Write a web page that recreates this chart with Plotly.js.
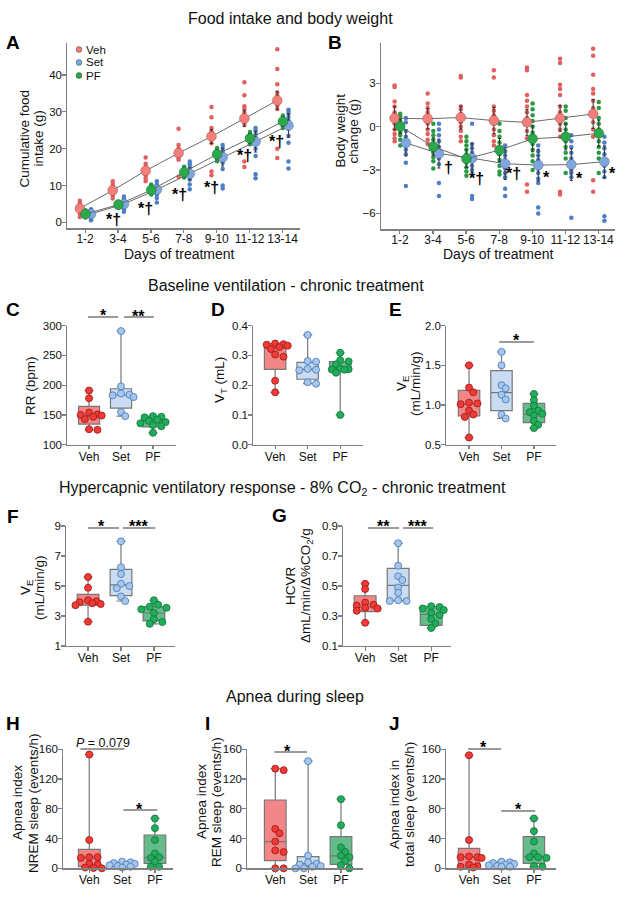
<!DOCTYPE html>
<html><head><meta charset="utf-8">
<script src="https://cdn.plot.ly/plotly-3.0.1.min.js"></script>
<style>html,body{margin:0;padding:0;background:#fff;}#chart{width:631px;height:900px;}</style>
</head><body><div id="chart"></div>
<script>
// ================= DATA =================
const days = ['1-2','3-4','5-6','7-8','9-10','11-12','13-14'];
const groups = ['Veh','Set','PF'];

// A: cumulative food intake (g)
const foodVehMean = [3.8, 8.7, 14.0, 18.8, 23.3, 28.2, 33.1];
const foodSetMean = [2.3, 5.0, 8.9, 13.2, 17.7, 21.9, 26.3];
const foodPFMean  = [2.3, 4.8, 8.8, 13.6, 18.5, 22.8, 27.4];
const foodVehErr = [0.6, 0.6, 0.9, 1.1, 1.9, 2.2, 2.5];
const foodSetErr = [0.7, 0.8, 1.0, 1.6, 2.4, 2.8, 3.2];
const foodPFErr  = [0.8, 0.6, 0.9, 1.0, 1.2, 1.3, 1.3];
const foodVehDots = [
  [1.5, 2.3, 2.9, 3.4, 3.8, 4.3, 4.8, 5.3, 5.9],
  [6.5, 7.2, 7.8, 8.3, 8.8, 9.3, 9.8, 10.4, 11.2],
  [11.2, 12.0, 12.8, 13.4, 14.0, 14.6, 15.2, 15.9, 17.6],
  [12.4, 17.0, 17.6, 18.2, 18.8, 19.4, 20.0, 21.0, 25.4],
  [12.8, 13.8, 21.5, 22.5, 23.2, 24.0, 24.8, 25.6, 28.5, 31.3],
  [15.0, 16.5, 26.5, 27.3, 28.2, 29.0, 29.8, 30.8, 31.5, 34.5, 38.0],
  [17.5, 20.0, 30.8, 31.8, 32.6, 33.5, 34.3, 35.2, 37.5, 41.6, 47.0]
];
const foodSetDots = [
  [0.6, 1.0, 1.5, 2.0, 2.4, 2.8, 3.2, 3.6],
  [2.9, 3.6, 4.2, 4.8, 5.3, 5.8, 6.4, 7.0],
  [5.4, 6.6, 7.6, 8.4, 9.0, 9.6, 10.3, 11.2],
  [9.0, 10.3, 11.6, 12.6, 13.4, 14.2, 15.0, 15.8, 16.5],
  [9.2, 10.0, 14.5, 16.2, 17.4, 18.4, 19.3, 20.2, 21.0],
  [12.0, 13.1, 18.0, 20.0, 21.5, 22.3, 23.2, 24.0, 25.0, 25.6],
  [14.6, 16.5, 21.6, 23.5, 25.4, 26.6, 27.6, 28.6, 29.5, 30.2, 30.6]
];
const foodPFDots = [
  [1.3, 1.7, 2.0, 2.3, 2.6, 2.9, 3.3],
  [4.0, 4.3, 4.6, 4.9, 5.1, 5.4, 5.7],
  [7.6, 8.1, 8.5, 8.9, 9.3, 9.7, 10.3],
  [12.2, 12.7, 13.2, 13.6, 14.0, 14.5, 15.1],
  [16.6, 17.3, 17.9, 18.5, 19.1, 19.6, 20.2],
  [21.2, 21.8, 22.4, 22.9, 23.4, 23.9, 24.5],
  [25.6, 26.2, 26.8, 27.4, 27.9, 28.4, 29.0]
];
const foodMarks = ['*†','*†','*†','*†','*†','*†'];
const foodMarkX = [0.86, 1.85, 2.86, 3.83, 4.83, 5.81];
const foodMarkY = [1.44, 4.43, 8.23, 10.13, 18.8, 22.6];

// B: body weight change (g)
const bwVehMean = [0.58, 0.55, 0.63, 0.42, 0.30, 0.58, 0.88];
const bwSetMean = [-1.12, -1.86, -2.18, -2.56, -2.66, -2.62, -2.42];
const bwPFMean  = [0.02, -1.38, -2.22, -1.62, -0.84, -0.70, -0.46];
const bwVehErr = [0.8, 0.7, 0.8, 0.9, 0.9, 0.9, 1.0];
const bwSetErr = [0.9, 1.0, 1.0, 1.1, 1.1, 1.1, 1.1];
const bwPFErr  = [0.5, 0.6, 0.6, 0.8, 0.9, 0.9, 0.9];
const bwVehDots = [
  [2.85, 2.75, 1.75, 1.4, 1.0, 0.8, 0.5, 0.2, -0.2, -0.5, -0.8, -1.0],
  [2.3, 1.6, 1.3, 1.0, 0.8, 0.5, 0.2, -0.2, -0.5, -0.9, -1.2],
  [3.5, 3.4, 1.4, 1.2, 0.9, 0.6, 0.3, 0.0, -0.3, -0.7, -1.0],
  [3.9, 3.4, 1.4, 1.1, 0.8, 0.5, 0.2, -0.2, -0.6, -1.0, -1.3],
  [4.1, 3.9, 2.2, 1.8, 1.4, 1.0, 0.6, 0.2, -0.3, -0.8, -4.0, -4.5],
  [4.7, 4.4, 2.9, 2.6, 2.2, 1.4, 1.0, 0.6, 0.2, -0.2, -0.7, -4.5, -4.7],
  [5.4, 4.9, 3.6, 2.6, 2.3, 1.8, 1.3, 0.8, 0.3, -0.2, -0.7, -3.7, -4.5]
];
const bwSetDots = [
  [0.6, 0.3, -0.3, -0.7, -1.0, -1.3, -1.6, -1.9, -2.5, -4.1],
  [0.2, -0.2, -0.6, -1.0, -1.4, -1.8, -2.2, -2.6, -3.9, -4.8],
  [0.2, -1.2, -1.5, -1.8, -2.1, -2.4, -2.7, -3.0, -4.8, -5.0],
  [-1.3, -1.7, -2.0, -2.3, -2.6, -2.9, -3.2, -3.5, -4.3, -4.8],
  [-1.3, -1.7, -2.0, -2.3, -2.6, -2.9, -3.2, -3.6, -3.9, -5.6, -6.0],
  [-0.6, -1.0, -1.4, -1.8, -2.2, -2.6, -3.0, -3.2, -3.5, -6.3],
  [-0.7, -1.1, -1.5, -1.9, -2.3, -2.7, -3.1, -3.5, -6.2, -6.5]
];
const bwPFDots = [
  [0.9, 0.7, 0.4, 0.2, 0.0, -0.2, -0.4, -0.6, -0.9, -1.3],
  [0.2, -0.3, -0.6, -0.9, -1.2, -1.5, -1.8, -2.1, -2.4, -2.9],
  [-0.7, -1.0, -1.3, -1.6, -1.9, -2.2, -2.5, -2.8, -3.1, -3.4],
  [0.2, -0.3, -0.7, -1.1, -1.5, -1.9, -2.3, -2.7, -3.1, -3.3],
  [1.6, 1.2, 0.8, 0.4, 0.0, -0.4, -0.8, -1.2, -1.6, -2.0, -2.4, -3.0],
  [1.4, 1.1, 0.6, 0.2, -0.2, -0.6, -1.0, -1.4, -1.8, -2.2, -3.2],
  [1.7, 1.3, 0.6, 0.2, -0.2, -0.6, -1.0, -1.4, -1.8, -2.2, -3.2]
];
const bwMarks = ['†','*†','*†','*','*','*'];
const bwMarkX = [1.46, 2.32, 3.42, 4.43, 5.44, 6.41];
const bwMarkY = [-2.77, -3.46, -3.12, -3.22, -3.28, -2.95];

// C: RR (bpm)
const rrVeh = [191, 178, 154, 151, 150, 149, 147, 143, 126, 125];
const rrSet = [291, 198, 186, 184, 183, 180, 155, 148];
const rrPF  = [148, 147, 146, 142, 140, 138, 136, 133, 131, 120];
const rrQ1 = [134.7, 161.6, 130], rrMed = [148, 183.5, 139], rrQ3 = [164.4, 194, 148];
// D: VT (mL)
const vtVeh = [0.340, 0.338, 0.336, 0.333, 0.328, 0.322, 0.303, 0.296, 0.215, 0.176];
const vtSet = [0.369, 0.281, 0.279, 0.255, 0.252, 0.250, 0.210, 0.205];
const vtPF  = [0.309, 0.284, 0.280, 0.270, 0.256, 0.254, 0.253, 0.252, 0.242, 0.100];
const vtQ1 = [0.253, 0.220, 0.251], vtMed = [0.324, 0.253, 0.256], vtQ3 = [0.341, 0.277, 0.279];
// E: VE (mL/min/g)
const veVeh = [1.50, 1.22, 1.16, 1.03, 1.02, 1.01, 0.93, 0.88, 0.85, 0.59];
const veSet = [1.67, 1.50, 1.25, 1.21, 1.13, 1.07, 0.88, 0.83];
const vePF  = [1.14, 1.06, 0.99, 0.93, 0.91, 0.89, 0.87, 0.80, 0.75, 0.71];
const veQ1 = [0.862, 0.929, 0.778], veMed = [1.013, 1.156, 0.883], veQ3 = [1.185, 1.433, 1.021];
// F: VE under 8% CO2
const hvVeh = [5.6, 4.88, 4.05, 3.98, 3.92, 3.85, 3.8, 3.72, 2.62];
const hvSet = [7.98, 6.25, 5.8, 5.15, 5.0, 4.85, 4.3, 4.0];
const hvPF  = [4.05, 3.75, 3.62, 3.55, 3.45, 3.2, 2.78, 2.6, 2.48];
const hvQ1 = [3.73, 4.36, 2.67], hvMed = [3.96, 5.07, 3.2], hvQ3 = [4.44, 6.11, 3.62];
// G: HCVR
const hcVeh = [0.515, 0.48, 0.39, 0.375, 0.37, 0.355, 0.35, 0.335, 0.255];
const hcSet = [0.785, 0.635, 0.565, 0.54, 0.49, 0.455, 0.405, 0.40, 0.40];
const hcPF  = [0.365, 0.36, 0.35, 0.34, 0.32, 0.305, 0.28, 0.25, 0.22];
const hcQ1 = [0.329, 0.402, 0.238], hcMed = [0.36, 0.504, 0.31], hcQ3 = [0.435, 0.618, 0.365];
// H: apnea index NREM
const nremVeh = [153, 38, 15, 15, 14, 6, 5, 1, 0.5, 0];
const nremSet = [9, 8, 7, 6, 5, 4, 3, 2, 1];
const nremPF  = [67, 54, 38, 20, 15, 14, 9, 2, 2];
const nremQ1 = [2.2, 2.2, 6.7], nremMed = [14.8, 5, 14.3], nremQ3 = [25.5, 8, 44.8];
// I: apnea index REM
const remVeh = [134, 132, 53, 47, 36, 24, 22, 0, 0];
const remSet = [144, 17, 8, 6, 5, 3, 2, 0, 0];
const remPF  = [93, 58, 28, 22, 17, 15, 10, 4, 0];
const remQ1 = [10.3, 3.1, 5.4], remMed = [35.8, 6.7, 16.6], remQ3 = [91.8, 15.7, 42.6];
// J: apnea index total sleep
const totVeh = [152, 38, 16, 15, 15, 14, 5, 3, 2, 1];
const totSet = [9, 8, 7, 6, 5, 4, 3, 2, 2];
const totPF  = [67, 50, 36, 20, 15, 15, 14, 3, 2];
const totQ1 = [3.1, 2.2, 6.7], totMed = [15.7, 5.4, 15.7], totQ3 = [26.9, 8.5, 42.6];

// ================= STYLE / LAYOUT =================
const W = 631, H = 900;
const FONT = 'Liberation Sans, Arial, Helvetica, sans-serif';
const px = v => v / W, py = v => 1 - v / H;
const meanFill = ['#f27f79', '#7fa6de', '#2aa84a'];
const dotCol   = ['#e35e5e', '#4f7ec6', '#2a9a42'];
const offAB    = [-0.16, 0.18, 0.01];
const boxFill  = ['#f28585', '#c9dcf2', '#66bb8a'];
const ptFill   = ['#ef3b36', '#a7c7ea', '#22ad5c'];
const ptLine   = ['#a61c1c', '#4f7fbf', '#137a3c'];
const AXC = '#808080';

// panel geometry: axis box (px), ranges, y-title lines with their centre x (px) and centre y (px)
const geo = {
  A:{id:1, x:[67,300],    y:[43.3,228.3],  xr:[-0.55,6.53], yr:[-1.6,48.6], tv:[0,10,20,30,40], fmt:'',
     tl:['Cumulative food','intake (g)'], tx:[24.5,38.5], ty:139, xt:179},
  B:{id:2, x:[380.7,615], y:[43.3,229.3],  xr:[-0.58,6.5],  yr:[-7.1,5.77], tv:[-6,-3,0,3], fmt:'',
     tl:['Body weight','change (g)'], tx:[339.5,352.5], ty:131, xt:499},
  C:{id:3, x:[67,176],  y:[325.7,444.7], xr:[-0.69,2.72], yr:[100,300], tv:[100,150,200,250,300], fmt:'',
     tl:['RR (bpm)'], tx:[30], ty:386},
  D:{id:4, x:[253,363], y:[325.7,444.7], xr:[-0.68,2.7],  yr:[0,0.4], tv:[0,0.1,0.2,0.3,0.4], fmt:'.1f',
     tl:['V<sub>T</sub> (mL)'], tx:[220], ty:380},
  E:{id:5, x:[446,556], y:[325.7,444.7], xr:[-0.71,2.68], yr:[0.5,2.0], tv:[0.5,1.0,1.5,2.0], fmt:'.1f',
     tl:['V<sub>E</sub>','(mL/min/g)'], tx:[402,415], ty:384},
  F:{id:6, x:[66,175],  y:[526,646],     xr:[-0.67,2.64], yr:[1,9], tv:[1,3,5,7,9], fmt:'',
     tl:['V<sub>E</sub>','(mL/min/g)'], tx:[26,39], ty:588},
  G:{id:7, x:[343,451], y:[526,646],     xr:[-0.67,2.6],  yr:[0.1,0.9], tv:[0.1,0.3,0.5,0.7,0.9], fmt:'.1f',
     tl:['HCVR','ΔmL/min/Δ%CO<sub>2</sub>/g'], tx:[290,306], ty:586},
  H:{id:8, x:[63,173],  y:[749.3,868.3], xr:[-0.8,2.55],  yr:[0,160], tv:[0,40,80,120,160], fmt:'',
     tl:['Apnea index','NREM sleep (events/h)'], tx:[17,33], ty:803},
  I:{id:9, x:[247,363], y:[749.3,868.3], xr:[-0.86,2.67], yr:[0,160], tv:[0,40,80,120,160], fmt:'',
     tl:['Apnea index','REM sleep (events/h)'], tx:[201,216], ty:802},
  J:{id:10, x:[446,556], y:[749.3,868.3], xr:[-0.71,2.68], yr:[0,160], tv:[0,40,80,120,160], fmt:'',
     tl:['Apnea index in','total sleep (events/h)'], tx:[394,409], ty:805}
};
const sfx = n => n === 1 ? '' : String(n);

const layout = {
  width: W, height: H, margin:{l:0,r:0,t:0,b:0}, paper_bgcolor:'#fff', plot_bgcolor:'rgba(0,0,0,0)',
  showlegend:false, font:{family:FONT, color:'#111'}, boxmode:'overlay',
  annotations:[], shapes:[]
};
Object.keys(geo).forEach(k => {
  const g = geo[k], s = sfx(g.id), isTime = (k === 'A' || k === 'B');
  layout['xaxis'+s] = {
    domain:[px(g.x[0]), px(g.x[1])], range:g.xr, anchor:'y'+s, showline:true, linecolor:AXC, linewidth:1.2,
    ticks:'outside', ticklen:3.5, tickcolor:AXC, tickwidth:1.2, showgrid:false, zeroline:false,
    ticklabelstandoff: isTime ? -4 : -3,
    tickmode:'array', tickvals: isTime ? days.map((d,i)=>i) : [0,1,2], ticktext: isTime ? days : groups,
    tickfont:{size:12, family:FONT, color:'#111'}, fixedrange:true
  };
  layout['yaxis'+s] = {
    domain:[py(g.y[1]), py(g.y[0])], range:g.yr, anchor:'x'+s, showline:true, linecolor:AXC, linewidth:1.2,
    ticks:'outside', ticklen:3.5, tickcolor:AXC, tickwidth:1.2, showgrid:false, zeroline:false, ticklabelstandoff:-2,
    tickmode:'array', tickvals:g.tv, tickformat:g.fmt, tickfont:{size:11.5, family:FONT, color:'#111'}, fixedrange:true
  };
  // y-axis title lines (rotated)
  g.tl.forEach((t, i) => layout.annotations.push({text:t, xref:'paper', yref:'paper', x:px(g.tx[i]), y:py(g.ty),
    textangle:-90, xanchor:'center', yanchor:'middle', showarrow:false, font:{size:13.5, family:FONT, color:'#111'}}));
  // x-axis title for time-course panels
  if (isTime) layout.annotations.push({text:'Days of treatment', xref:'paper', yref:'paper', x:px(g.xt), y:py(254),
    xanchor:'center', yanchor:'middle', showarrow:false, font:{size:14, family:FONT, color:'#111'}});
});

const traces = [];

// ---------- A & B: time-course panels ----------
function timePanel(id, dotsArr, means, errs) {
  const s = sfx(id);
  dotsArr.forEach((dots, gi) => {
    const xs = [], ys = [];
    dots.forEach((arr, di) => arr.forEach(v => { xs.push(di + offAB[gi]); ys.push(v); }));
    traces.push({type:'scatter', mode:'markers', x:xs, y:ys, xaxis:'x'+s, yaxis:'y'+s,
      marker:{size:4.5, color:dotCol[gi]}, hoverinfo:'skip', cliponaxis:false});
  });
  means.forEach((m, gi) => {
    traces.push({type:'scatter', mode:'lines+markers', x:m.map((v,i)=>i+offAB[gi]), y:m, xaxis:'x'+s, yaxis:'y'+s,
      line:{color:'#6a6a6a', width:1},
      error_y:{type:'data', array:errs[gi], visible:true, color:'#333', thickness:1, width:1.5},
      marker:{size:10, color:meanFill[gi], line:{color:'rgba(0,0,0,0.3)', width:0.6}}, hoverinfo:'skip', cliponaxis:false});
  });
}
timePanel(1, [foodVehDots, foodSetDots, foodPFDots], [foodVehMean, foodSetMean, foodPFMean], [foodVehErr, foodSetErr, foodPFErr]);
timePanel(2, [bwVehDots, bwSetDots, bwPFDots], [bwVehMean, bwSetMean, bwPFMean], [bwVehErr, bwSetErr, bwPFErr]);

function markAnn(id, marks, mx, my) {
  const s = sfx(id);
  marks.forEach((t, i) => layout.annotations.push({text:'<b>'+t+'</b>', x:mx[i], y:my[i], xref:'x'+s, yref:'y'+s,
    showarrow:false, font:{size:16, family:FONT, color:'#000'}, xanchor:'center', yanchor:'middle',
    yshift: t === '*' ? -4 : (t === '†' ? -1 : -2)}));
}
markAnn(1, foodMarks, foodMarkX, foodMarkY);
markAnn(2, bwMarks, bwMarkX, bwMarkY);

// legend for A
[49.5, 62.5, 75.5].forEach((yy, gi) => {
  const r = 2.9;
  layout.shapes.push({type:'circle', xref:'paper', yref:'paper', x0:px(79-r), x1:px(79+r), y0:py(yy+r), y1:py(yy-r),
    fillcolor:meanFill[gi], line:{color:'rgba(0,0,0,0.55)', width:0.6}});
  layout.annotations.push({text:groups[gi], xref:'paper', yref:'paper', x:px(84), y:py(yy), xanchor:'left', yanchor:'middle',
    showarrow:false, font:{size:11.5, family:FONT, color:'#111'}});
});

// ---------- box panels ----------
function swarmOffsets(vals, pxU, pxC, diam) {
  const order = vals.map((v,i)=>i).sort((a,b)=>vals[b]-vals[a]);
  const placed = [], out = new Array(vals.length), step = diam*0.6;
  const cands = [0, step, -step, 2*step, -2*step, 3*step, -3*step];
  for (const i of order) {
    const y = vals[i]*pxU;
    let best = 0, bestD = -1;
    for (const c of cands) {
      let m = Infinity;
      for (const p of placed) { const d = Math.hypot(p[0]-c, p[1]-y); if (d < m) m = d; }
      if (m >= diam*0.75) { best = c; break; }
      if (m > bestD) { bestD = m; best = c; }
    }
    placed.push([best, y]); out[i] = best / pxC;
  }
  return out;
}
function boxPanel(key, sets, q1, med, q3) {
  const g = geo[key], s = sfx(g.id);
  const pxU = (g.y[1]-g.y[0])/(g.yr[1]-g.yr[0]);
  const pxC = (g.x[1]-g.x[0])/(g.xr[1]-g.xr[0]);
  sets.forEach((vals, gi) => {
    traces.push({type:'box', x:[gi], q1:[q1[gi]], median:[med[gi]], q3:[q3[gi]],
      lowerfence:[Math.min(...vals)], upperfence:[Math.max(...vals)],
      width:0.66, whiskerwidth:0.42, fillcolor:boxFill[gi], line:{color:'#777', width:1.2},
      boxpoints:false, xaxis:'x'+s, yaxis:'y'+s, hoverinfo:'skip'});
  });
  sets.forEach((vals, gi) => {
    const off = swarmOffsets(vals, pxU, pxC, 7);
    traces.push({type:'scatter', mode:'markers', x:vals.map((v,i)=>gi+off[i]), y:vals, xaxis:'x'+s, yaxis:'y'+s,
      marker:{size:7, color:ptFill[gi], line:{color:ptLine[gi], width:0.9}}, hoverinfo:'skip', cliponaxis:false});
  });
}
boxPanel('C', [rrVeh, rrSet, rrPF], rrQ1, rrMed, rrQ3);
boxPanel('D', [vtVeh, vtSet, vtPF], vtQ1, vtMed, vtQ3);
boxPanel('E', [veVeh, veSet, vePF], veQ1, veMed, veQ3);
boxPanel('F', [hvVeh, hvSet, hvPF], hvQ1, hvMed, hvQ3);
boxPanel('G', [hcVeh, hcSet, hcPF], hcQ1, hcMed, hcQ3);
boxPanel('H', [nremVeh, nremSet, nremPF], nremQ1, nremMed, nremQ3);
boxPanel('I', [remVeh, remSet, remPF], remQ1, remMed, remQ3);
boxPanel('J', [totVeh, totSet, totPF], totQ1, totMed, totQ3);

// ---------- significance bars ----------
function sig(key, x0, x1, barY, text, tx, ty) {
  const s = sfx(geo[key].id);
  layout.shapes.push({type:'line', xref:'x'+s, yref:'paper', x0:x0, x1:x1, y0:py(barY), y1:py(barY),
    line:{color:'#9a9a9a', width:2}});
  const isStar = text.indexOf('*') === 0;
  layout.annotations.push({text: isStar ? '<b>'+text+'</b>' : text, xref:'x'+s, yref:'paper', x:tx, y:py(ty + (isStar ? 4 : 1)),
    xanchor:'center', yanchor:'middle', showarrow:false,
    font: isStar ? {size:16, family:FONT, color:'#000'} : {size:12.5, family:FONT, color:'#111'}});
}
sig('C', -0.03, 0.91, 317, '*', 0.44, 311);
sig('C', 1.09, 2.03, 317, '**', 1.56, 312);
sig('E', 0.93, 2.0, 342, '*', 1.45, 336);
sig('F', 0.0, 0.94, 528, '*', 0.4, 522);
sig('F', 1.06, 2.04, 528, '***', 1.52, 522);
sig('G', 0.09, 1.03, 528, '**', 0.55, 522);
sig('G', 1.15, 2.06, 528, '***', 1.58, 522);
sig('H', -0.27, 1.07, 749, '<i>P</i> = 0.079', 0.43, 742);
sig('H', 1.04, 2.07, 810, '*', 1.52, 805);
sig('I', -0.03, 0.97, 752, '*', 0.36, 747);
sig('J', -0.03, 0.99, 749, '*', 0.46, 743);
sig('J', 0.99, 2.04, 811, '*', 1.51, 805);

// ---------- row titles & panel letters ----------
[['Food intake and body weight', 290, 19],
 ['Baseline ventilation - chronic treatment', 286, 285],
 ['Hypercapnic ventilatory response - 8% CO<sub>2</sub> - chronic treatment', 282, 488],
 ['Apnea during sleep', 295, 696]].forEach(t => layout.annotations.push({text:t[0], xref:'paper', yref:'paper',
   x:px(t[1]), y:py(t[2]), xanchor:'center', yanchor:'middle', showarrow:false, font:{size:16, family:FONT, color:'#111'}}));
[['A',12.8,41.7],['B',335,42],['C',13.3,309],['D',218,309],['E',395,309],['F',12.5,515],['G',279,514],
 ['H',13,722],['I',207,722],['J',394,722]].forEach(t => layout.annotations.push({text:'<b>'+t[0]+'</b>', xref:'paper', yref:'paper',
   x:px(t[1]), y:py(t[2]), xanchor:'center', yanchor:'middle', yshift:-1, showarrow:false,
   font:{size:19, family:FONT, color:'#000'}}));

Plotly.newPlot('chart', traces, layout, {staticPlot:true, displayModeBar:false});
</script></body></html>
